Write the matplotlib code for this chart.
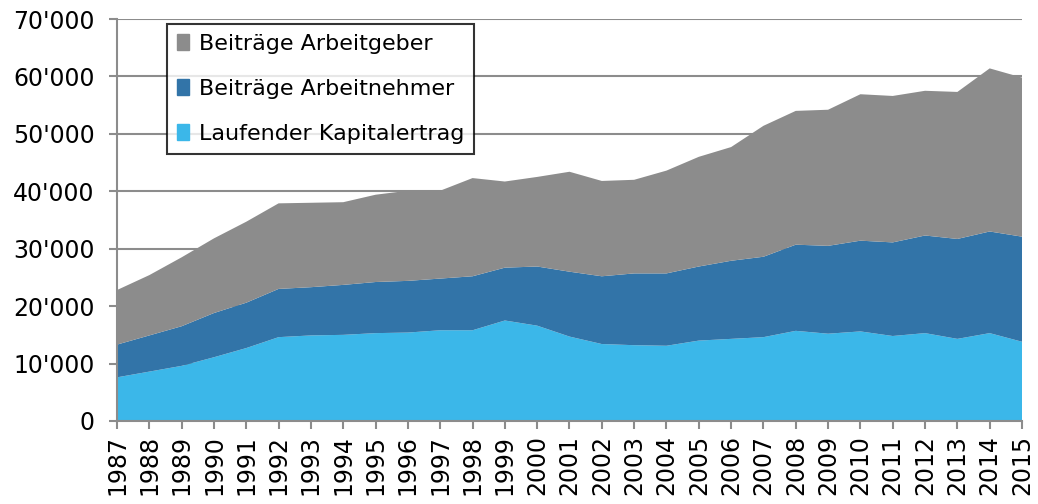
import matplotlib.pyplot as plt
from matplotlib.ticker import FuncFormatter, MultipleLocator
from matplotlib.patches import Patch

# data
years = list(range(1987, 2016))
kapitalertrag = [7600, 8600, 9600, 11100, 12700, 14600, 14900, 15000, 15300, 15400,
                 15800, 15800, 17500, 16600, 14700, 13400, 13200, 13100, 14000, 14300,
                 14600, 15700, 15200, 15600, 14800, 15300, 14300, 15300, 13800]
arbeitnehmer = [5700, 6300, 6900, 7700, 7900, 8400, 8400, 8700, 8900, 9000,
                9000, 9400, 9200, 10300, 11300, 11800, 12500, 12600, 12900, 13600,
                14000, 15000, 15300, 15800, 16300, 17000, 17400, 17700, 18300]
arbeitgeber = [9500, 10500, 12000, 13000, 14100, 14900, 14700, 14400, 15200, 15700,
               15300, 17100, 15000, 15600, 17400, 16600, 16300, 17900, 19100, 19800,
               22800, 23300, 23700, 25500, 25500, 25200, 25600, 28400, 27700]

labels = ["Laufender Kapitalertrag", "Beiträge Arbeitnehmer", "Beiträge Arbeitgeber"]
colors = ["#3bb7e9", "#3274a8", "#8c8c8c"]

plt.rcParams['font.family'] = ['DejaVu Sans']

fig = plt.figure(figsize=(10.38, 5.04), dpi=100)
ax = fig.add_axes([0.1127, 0.1647, 0.8719, 0.7976])

ax.stackplot(years, kapitalertrag, arbeitnehmer, arbeitgeber, colors=colors, zorder=2)

ax.set_xlim(1987, 2015)
ax.set_ylim(0, 70000)
ax.yaxis.set_major_locator(MultipleLocator(10000))
ax.yaxis.set_major_formatter(FuncFormatter(lambda v, p: "0" if v == 0 else f"{int(v/1000)}'000"))
ax.set_xticks(years)
ax.set_xticklabels([str(y) for y in years], rotation=90)

ax.grid(axis="y", color="#8c8c8c", linewidth=1.5, zorder=0)
ax.set_axisbelow(True)
for s in ["top", "right"]:
    ax.spines[s].set_visible(False)
for s in ["left", "bottom"]:
    ax.spines[s].set_color("#8c8c8c")
    ax.spines[s].set_linewidth(1.5)
ax.tick_params(axis="both", colors="#8c8c8c", width=1.5, length=6, labelcolor="black", labelsize=17)
ax.tick_params(axis="y", pad=10)
ax.tick_params(axis="x", pad=4)

handles = [Patch(color=colors[2]), Patch(color=colors[1]), Patch(color=colors[0])]
leg = ax.legend(handles, labels[::-1], loc="upper left", bbox_to_anchor=(0.055, 0.988),
                fontsize=16, frameon=True, fancybox=False, handlelength=0.55, handleheight=0.75,
                handletextpad=0.45, labelspacing=1.12, borderpad=0.45, borderaxespad=0)
leg.get_frame().set_edgecolor("black")
leg.get_frame().set_linewidth(1.5)

fig.savefig("out.png", dpi=100)
